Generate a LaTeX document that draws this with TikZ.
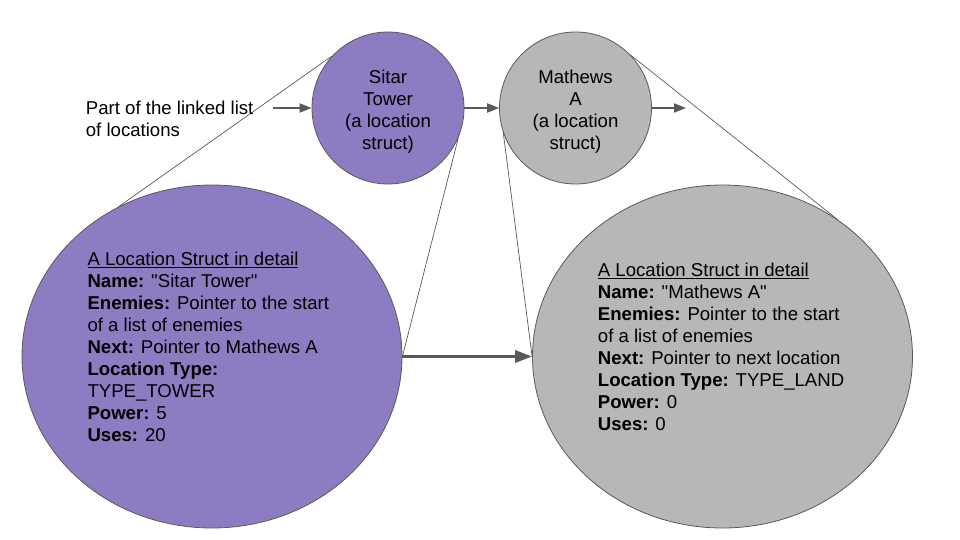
\documentclass[tikz,border=0pt]{standalone}
\usepackage{fontspec}
\setmainfont{Liberation Sans}[Ligatures=TeXOff]
\usetikzlibrary{shapes.geometric,arrows.meta}
\definecolor{purp}{HTML}{8E7CC3}
\definecolor{gry}{HTML}{B7B7B7}
\definecolor{edge}{HTML}{595959}
\begin{document}
\begin{tikzpicture}[x=1pt,y=-1pt,
  txt/.style={font=\fontsize{18.6}{22}\selectfont, inner sep=0pt},
  smallc/.style={circle, draw=edge, line width=0.8pt, minimum size=152pt, inner sep=0pt},
  bigell/.style={ellipse, draw=edge, line width=0.8pt, minimum width=380pt, minimum height=343pt, inner sep=0pt},
  thin/.style={draw=edge, line width=0.7pt},
  link/.style={draw=edge, line width=2pt, -{Triangle[length=12pt,width=9pt]}},
  biglink/.style={draw=edge, line width=3pt, -{Triangle[length=17pt,width=12pt]}}
]
\useasboundingbox (0,0) rectangle (960,540);
% large ellipses
\node[bigell, fill=purp] (bp) at (212,356.5) {};
\node[bigell, fill=gry] (bg) at (722.5,356.5) {};
% small circles
\node[smallc, fill=purp] (st) at (388,108) {};
\node[smallc, fill=gry] (ma) at (575.5,108) {};
\node[txt, align=center] (stt) at ([yshift=-3.5pt]st.center) {Sitar\\Tower\\(a location\\struct)};
\node[txt, align=center] (mat) at ([yshift=-3.5pt]ma.center) {Mathews\\A\\(a location\\struct)};
% zoom lines
\draw[thin] (st.137) -- (bp.122);
\draw[thin] (st.-23) -- (bp.east);
\draw[thin] (ma.44) -- (bg.50.6);
\draw[thin] (ma.199) -- (bg.west);
% left text
\node[txt, anchor=north west, align=left] (lbl) at (85.7,100.8) {Part of the linked list\\of locations};
\coordinate (lstart) at (273,108);
\coordinate (lend) at (686,108);
\draw[link] (lstart) -- (st.west);
\draw[link] (st.east) -- (ma.west);
\draw[link] (ma.east) -- (lend);
\draw[biglink] (bp.east) -- (bg.west);
% detail texts
\node[txt, anchor=north west, align=left] (dp) at (87.3,251.5) {\underline{A Location Struct in detail}\\
\textbf{Name:} "Sitar Tower"\\
\textbf{Enemies:} Pointer to the start\\
of a list of enemies\\
\textbf{Next:} Pointer to Mathews A\\
\textbf{Location Type:}\\
TYPE\_TOWER\\
\textbf{Power:} 5\\
\textbf{Uses:} 20};
\node[txt, anchor=north west, align=left] (dg) at (597.7,262.5) {\underline{A Location Struct in detail}\\
\textbf{Name:} "Mathews A"\\
\textbf{Enemies:} Pointer to the start\\
of a list of enemies\\
\textbf{Next:} Pointer to next location\\
\textbf{Location Type:} TYPE\_LAND\\
\textbf{Power:} 0\\
\textbf{Uses:} 0};
\end{tikzpicture}
\end{document}
